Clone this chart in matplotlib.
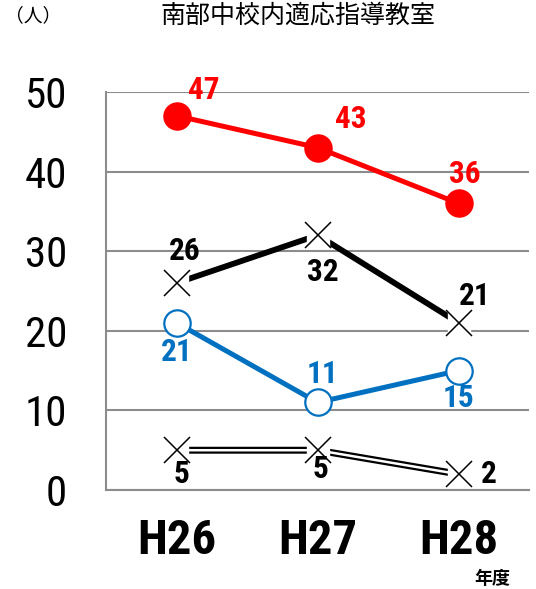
import matplotlib
matplotlib.use('Agg')
import matplotlib.pyplot as plt

# condensed latin face for numbers, CJK face for the Japanese text
NUM_FONT = ['Roboto Condensed', 'DejaVu Sans']
JP_FONT = ['Noto Sans CJK JP', 'DejaVu Sans']

years = ['H26', 'H27', 'H28']
red_vals = [47, 43, 36]
black_vals = [26, 32, 21]
blue_vals = [21, 11, 15]
double_vals = [5, 5, 2]
y_ticks = [0, 10, 20, 30, 40, 50]

RED = '#FF0000'
BLUE = '#0070C0'
GRID = '#8C8C8C'

fig = plt.figure(figsize=(5.36, 5.89), dpi=100)
ax = fig.add_axes([0.198, 0.168, 0.789, 0.676])

x = list(range(len(years)))

# red series: filled circles
ax.plot(x, red_vals, color=RED, lw=3.6, marker='o', ms=19.5,
        markerfacecolor=RED, markeredgecolor=RED, zorder=5)

# black series: X marks on a white backing so the line breaks around them
ax.plot(x, black_vals, color='black', lw=4.2, zorder=4)
ax.plot(x, black_vals, ls='none', marker='s', ms=16, color='white', zorder=4.5)
ax.plot(x, black_vals, ls='none', marker='x', ms=19, mew=1.1, color='black', zorder=5)

# blue series: open circles
ax.plot(x, blue_vals, color=BLUE, lw=3.6, marker='o', ms=19,
        markerfacecolor='white', markeredgecolor=BLUE, mew=1.6, zorder=5)

# double line series
ax.plot(x, double_vals, color='black', lw=5, zorder=4, solid_capstyle='butt')
ax.plot(x, double_vals, color='white', lw=1.8, zorder=4.2, solid_capstyle='butt')
ax.plot(x, double_vals, ls='none', marker='s', ms=16, color='white', zorder=4.5)
ax.plot(x, double_vals, ls='none', marker='x', ms=19, mew=1.1, color='black', zorder=5)

lab_kw = dict(textcoords='offset pixels', ha='center', va='center',
              fontsize=22.5, fontweight='bold', family=NUM_FONT, zorder=6)

red_off = [(27, 26), (33, 29), (6, 29)]
black_off = [(8, 32), (5, -37), (16, 27)]
blue_off = [(0, -29), (5, 28), (0, -27)]
double_off = [(5, -24), (3, -19), (30, 0)]

for i in x:
    ax.annotate(str(red_vals[i]), (i, red_vals[i]), xytext=red_off[i], color=RED, **lab_kw)
    ax.annotate(str(black_vals[i]), (i, black_vals[i]), xytext=black_off[i], color='black', **lab_kw)
    ax.annotate(str(blue_vals[i]), (i, blue_vals[i]), xytext=blue_off[i], color=BLUE, **lab_kw)
    ax.annotate(str(double_vals[i]), (i, double_vals[i]), xytext=double_off[i], color='black', **lab_kw)

ax.set_xlim(-0.5, 2.5)
ax.set_ylim(0, 50)
ax.set_yticks(y_ticks)
ax.set_yticklabels([str(v) for v in y_ticks], fontsize=31, family=NUM_FONT)
ax.set_xticks(x)
ax.set_xticklabels(years, fontsize=35, fontweight='bold', family=NUM_FONT)
ax.tick_params(axis='y', length=0, pad=28)
ax.tick_params(axis='x', length=0, pad=20)

ax.grid(axis='y', color=GRID, lw=1.5)
ax.set_axisbelow(True)
for side in ['top', 'right']:
    ax.spines[side].set_visible(False)
for side in ['left', 'bottom']:
    ax.spines[side].set_color(GRID)
    ax.spines[side].set_linewidth(1.5)

fig.text(0.556, 0.973, '南部中校内適応指導教室', ha='center', va='center',
         fontsize=18, family=JP_FONT)
fig.text(0.010, 0.973, '（人）', ha='left', va='center', fontsize=13.5, family=JP_FONT)
fig.text(0.918, 0.018, '年度', ha='center', va='center', fontsize=13,
         fontweight='bold', family=JP_FONT)

fig.savefig('out.png', dpi=100, facecolor='white')
